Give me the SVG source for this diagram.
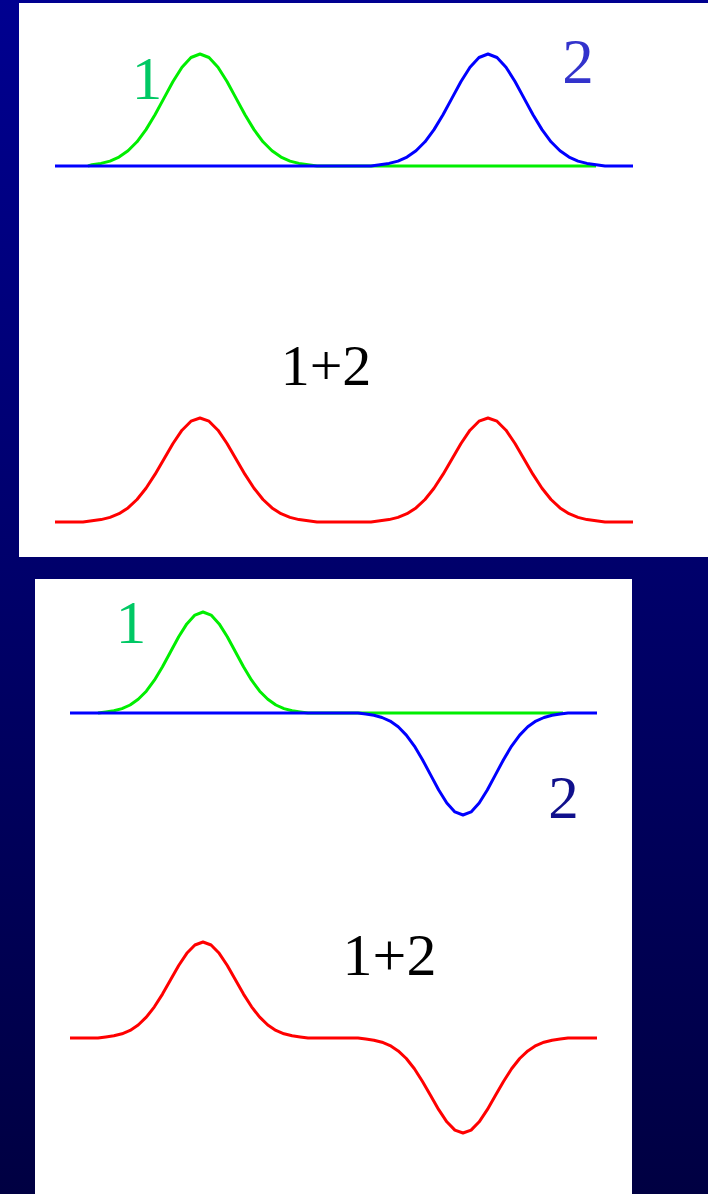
<svg xmlns="http://www.w3.org/2000/svg" width="708" height="1194" viewBox="0 0 708 1194">
  <defs>
    <linearGradient id="bg" x1="0" y1="0" x2="0" y2="1">
      <stop offset="0" stop-color="#000090"/>
      <stop offset="1" stop-color="#000042"/>
    </linearGradient>
    <style>
      .panel { fill: #ffffff; }
      .curve { fill: none; stroke-width: 3; stroke-linejoin: round; stroke-linecap: butt; }
      .g { stroke: #00ee00; }
      .b { stroke: #0000ff; }
      .r { stroke: #ff0000; }
      .lbl { font-family: "Liberation Serif", "Times New Roman", serif; text-anchor: middle; }
    </style>
  </defs>
  <rect x="0" y="0" width="708" height="1194" fill="url(#bg)"/>

  <g id="panel-top">
    <rect class="panel" x="19" y="3" width="689" height="554"/>
  </g>
  <g id="panel-bottom">
    <rect class="panel" x="35" y="579" width="597" height="615"/>
  </g>

  <g id="connectors">
    <path class="curve g" d="M88,166 L92,164.8 L101,163.4 L110,161.1 L119,157.1 L128,150.8 L137,141.8 L146,129.6 L155,114.7 L164,98.1 L173,81.5 L182,67.2 L191,57.5 L200,54 L209,57.5 L218,67.2 L227,81.5 L236,98.1 L245,114.7 L254,129.6 L263,141.8 L272,150.8 L281,157.1 L290,161.1 L299,163.4 L308,164.8 L317,166 L596,166"/>
    <path class="curve b" d="M55,166 L371,166 L380,164.8 L389,163.4 L398,161.1 L407,157.1 L416,150.8 L425,141.8 L434,129.6 L443,114.7 L452,98.1 L461,81.5 L470,67.2 L479,57.5 L488,54 L497,57.5 L506,67.2 L515,81.5 L524,98.1 L533,114.7 L542,129.6 L551,141.8 L560,150.8 L569,157.1 L578,161.1 L587,163.4 L596,164.8 L605,166 L633,166"/>
    <path class="curve r" d="M55,522 L83,522 L92,520.8 L101,519.6 L110,517.4 L119,513.7 L128,507.9 L137,499.5 L146,488.2 L155,474.4 L164,458.9 L173,443.5 L182,430.2 L191,421.2 L200,418 L209,421.2 L218,430.2 L227,443.5 L236,458.9 L245,474.4 L254,488.2 L263,499.5 L272,507.9 L281,513.7 L290,517.4 L299,519.6 L308,520.8 L317,522 L371,522 L380,520.8 L389,519.6 L398,517.4 L407,513.7 L416,507.9 L425,499.5 L434,488.2 L443,474.4 L452,458.9 L461,443.5 L470,430.2 L479,421.2 L488,418 L497,421.2 L506,430.2 L515,443.5 L524,458.9 L533,474.4 L542,488.2 L551,499.5 L560,507.9 L569,513.7 L578,517.4 L587,519.6 L596,520.8 L605,522 L633,522"/>

    <path class="curve g" d="M98,713 L105.8,711.9 L113.9,710.7 L122,708.6 L130.1,705 L138.2,699.3 L146.3,691.2 L154.4,680.2 L162.5,666.8 L170.6,651.7 L178.7,636.8 L186.8,623.9 L194.9,615.1 L203,612 L211.1,615.1 L219.2,623.9 L227.3,636.8 L235.4,651.7 L243.5,666.8 L251.6,680.2 L259.7,691.2 L267.8,699.3 L275.9,705 L284,708.6 L292.1,710.7 L300.2,711.9 L308,713 L563,713"/>
    <path class="curve b" d="M70,713 L358,713 L365.8,714.1 L373.9,715.3 L382,717.5 L390.1,721.1 L398.2,726.8 L406.3,735.1 L414.4,746.1 L422.5,759.7 L430.6,774.9 L438.7,790 L446.8,803 L454.9,811.9 L463,815 L471.1,811.9 L479.2,803 L487.3,790 L495.4,774.9 L503.5,759.7 L511.6,746.1 L519.7,735.1 L527.8,726.8 L535.9,721.1 L544,717.5 L552.1,715.3 L560.2,714.1 L568,713 L597,713"/>
    <path class="curve r" d="M70,1038 L98,1038 L105.8,1036.9 L113.9,1035.8 L122,1033.8 L130.1,1030.4 L138.2,1025 L146.3,1017.2 L154.4,1006.8 L162.5,994.1 L170.6,979.8 L178.7,965.5 L186.8,953.3 L194.9,945 L203,942 L211.1,945 L219.2,953.3 L227.3,965.5 L235.4,979.8 L243.5,994.1 L251.6,1006.8 L259.7,1017.2 L267.8,1025 L275.9,1030.4 L284,1033.8 L292.1,1035.8 L300.2,1036.9 L308,1038 L358,1038 L365.8,1039.1 L373.9,1040.2 L382,1042.2 L390.1,1045.6 L398.2,1050.9 L406.3,1058.5 L414.4,1068.8 L422.5,1081.5 L430.6,1095.6 L438.7,1109.7 L446.8,1121.8 L454.9,1130.1 L463,1133 L471.1,1130.1 L479.2,1121.8 L487.3,1109.7 L495.4,1095.6 L503.5,1081.5 L511.6,1068.8 L519.7,1058.5 L527.8,1050.9 L535.9,1045.6 L544,1042.2 L552.1,1040.2 L560.2,1039.1 L568,1038 L597,1038"/>
  </g>

  <g id="labels">
    <text class="lbl" x="147" y="99" font-size="61" fill="#00c864">1</text>
    <text class="lbl" x="578" y="83" font-size="63" fill="#3333cc">2</text>
    <text class="lbl" x="326" y="385" font-size="58" fill="#000000">1+2</text>
    <text class="lbl" x="131" y="643" font-size="61" fill="#00c864">1</text>
    <text class="lbl" x="563.5" y="818" font-size="61" fill="#10108c">2</text>
    <text class="lbl" x="389.5" y="975" font-size="60" fill="#000000">1+2</text>
  </g>
</svg>
